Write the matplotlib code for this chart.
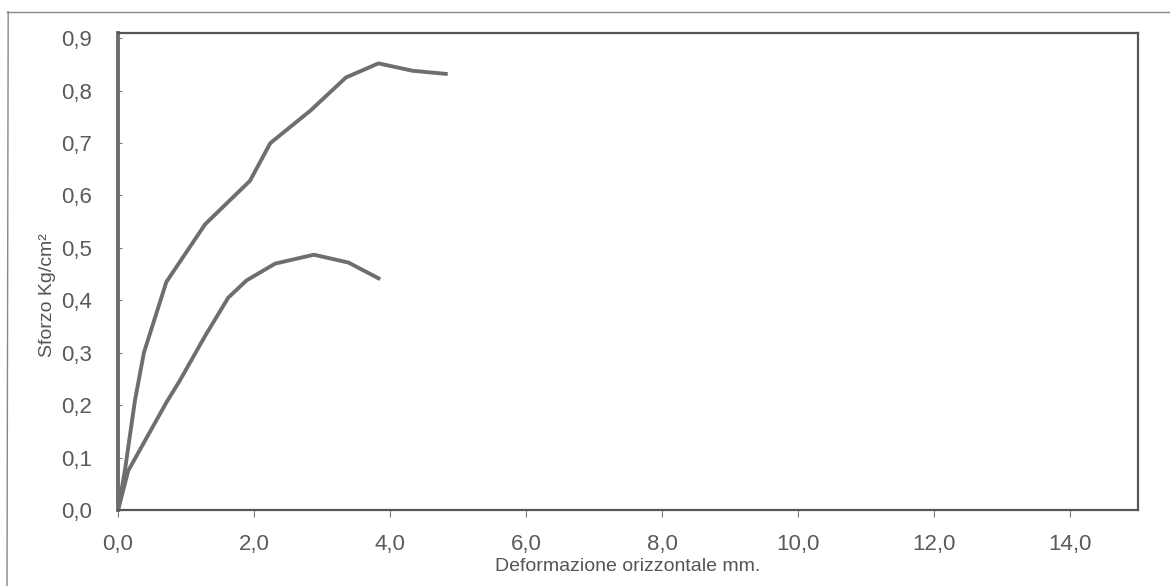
import matplotlib
matplotlib.use("Agg")
import matplotlib.pyplot as plt
from matplotlib.lines import Line2D

# upper curve (higher load)
x_hi = [0.0, 0.10, 0.25, 0.38, 0.71, 1.28, 1.94, 2.24, 2.83, 3.35, 3.83, 4.33, 4.82]
y_hi = [0.0, 0.075, 0.21, 0.30, 0.435, 0.545, 0.628, 0.70, 0.762, 0.825, 0.852, 0.838, 0.832]
# lower curve
x_lo = [0.0, 0.15, 0.71, 0.90, 1.28, 1.62, 1.89, 2.31, 2.88, 3.39, 3.83]
y_lo = [0.0, 0.075, 0.205, 0.245, 0.332, 0.405, 0.438, 0.470, 0.487, 0.472, 0.442]

xticks = [0, 2, 4, 6, 8, 10, 12, 14]
yticks = [0.0, 0.1, 0.2, 0.3, 0.4, 0.5, 0.6, 0.7, 0.8, 0.9]

plt.rcParams["font.family"] = ["Liberation Sans", "DejaVu Sans"]
fig = plt.figure(figsize=(11.7, 5.86), dpi=100)
ax = fig.add_axes([0.1009, 0.1297, 0.8717, 0.814])

lc = "#6e6e6e"
ax.plot(x_hi, y_hi, color=lc, lw=2.8, solid_joinstyle="round")
ax.plot(x_lo, y_lo, color=lc, lw=2.8, solid_joinstyle="round")

ax.set_xlim(0, 15)
ax.set_ylim(0, 0.91)
ax.set_xticks(xticks)
ax.set_xticklabels([f"{v:.1f}".replace(".", ",") for v in xticks])
ax.set_yticks(yticks)
ax.set_yticklabels([f"{v:.1f}".replace(".", ",") for v in yticks])
ax.tick_params(axis="x", direction="out", length=5, width=0.8, color="#777777",
               labelsize=16, labelcolor="#5a5a5a", pad=12)
ax.tick_params(axis="y", direction="in", length=3, width=0.8, color="#777777",
               labelsize=16, labelcolor="#5a5a5a", pad=19)
for sp in ("top", "right", "bottom"):
    ax.spines[sp].set_color("#555555")
    ax.spines[sp].set_linewidth(1.6)
ax.spines["left"].set_color(lc)
ax.spines["left"].set_linewidth(2.8)

ax.set_xlabel("Deformazione orizzontale mm.", fontsize=14, color="#555555")
ax.xaxis.set_label_coords(0.5, -0.1)
ax.set_ylabel("Sforzo Kg/cm²", fontsize=14, color="#555555")
ax.yaxis.set_label_coords(-0.061, 0.45)

# outer scan border
fig.add_artist(Line2D([0.006, 1.0], [0.98, 0.98], transform=fig.transFigure, color="#888888", lw=1.0))
fig.add_artist(Line2D([0.006, 0.007], [0.0, 0.98], transform=fig.transFigure, color="#888888", lw=1.0))

fig.savefig("out.png", dpi=100)
